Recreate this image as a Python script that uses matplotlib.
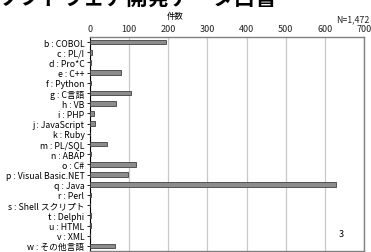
import numpy as np
import matplotlib
matplotlib.use('Agg')
import matplotlib.pyplot as plt

plt.rcParams['font.family'] = ['Noto Sans CJK JP', 'DejaVu Sans']

# categories, top to bottom
labels = ['b : COBOL', 'c : PL/I', 'd : Pro*C', 'e : C++', 'f : Python',
          'g : C言語', 'h : VB', 'i : PHP', 'j : JavaScript', 'k : Ruby',
          'm : PL/SQL', 'n : ABAP', 'o : C#', 'p : Visual Basic.NET',
          'q : Java', 'r : Perl', 's : Shell スクリプト', 't : Delphi',
          'u : HTML', 'v : XML', 'w : その他言語']
counts = [195, 4, 3, 79, 2, 106, 66, 9, 12, 1, 43, 2, 117, 98, 629, 2, 1,
          3, 3, 1, 65]
xticks = [0, 100, 200, 300, 400, 500, 600, 700]

fig = plt.figure(figsize=(3.71, 2.53), dpi=100)
ax = fig.add_axes([90 / 371, 1 / 253, 274 / 371, 214 / 253])

y = np.arange(len(labels))
ax.barh(y, counts, height=0.45, color='#8c8c8c', edgecolor='#404040',
        linewidth=0.6, zorder=3)
ax.set_ylim(len(labels) - 0.5, -0.5)
ax.set_xlim(0, 700)
ax.set_yticks(y)
ax.set_yticklabels(labels, fontsize=6.3)
ax.set_xticks(xticks)
ax.set_xticklabels([str(v) for v in xticks], fontsize=6.5, color='#222222')
ax.xaxis.tick_top()
ax.tick_params(axis='x', length=0, pad=3)
ax.tick_params(axis='y', length=2, width=0.6, pad=2)
ax.grid(axis='x', color='#c8c8c8', linewidth=0.9, zorder=0)

ax.spines['left'].set_color('#000000')
ax.spines['left'].set_linewidth(0.8)
for s in ['top', 'right', 'bottom']:
    ax.spines[s].set_color('#808080')
    ax.spines[s].set_linewidth(1.0)

fig.text(175 / 371, 1 - 17 / 253, '件数', fontsize=6, ha='center',
         va='center')
fig.text(369 / 371, 1 - 20 / 253, 'N=1,472', fontsize=6.3, ha='right',
         va='center', color='#222222')
ax.text(0.916, 0.08, '3', fontsize=6.5, ha='center', va='center',
        transform=ax.transAxes)

# title running off the top edge, as in the source
fig.text(-2 / 371, 1.0 + 2 / 253, 'ソフトウェア開発データ白書', fontsize=15.5,
         fontweight='bold', ha='left', va='center')

fig.savefig('out.png', dpi=100)
